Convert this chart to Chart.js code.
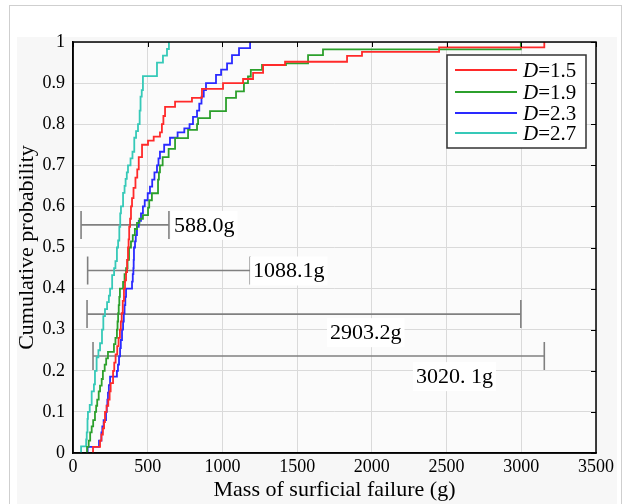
<!DOCTYPE html>
<html>
<head>
<meta charset="utf-8">
<script src="https://cdn.jsdelivr.net/npm/chart.js@4/dist/chart.umd.min.js"></script>
<style>
  html, body { margin: 0; padding: 0; background: #fff; }
  canvas { display: block; }
</style>
</head>
<body>
<canvas id="cdf" width="625" height="504"></canvas>
<script>
// ECDF steps: [mass (g), cumulative probability]
const d15 = [[134,0],[134,0.015],[181,0.03],[190,0.045],[200,0.06],[208,0.075],[214,0.1],[225,0.115],[236,0.13],[245,0.15],
  [252,0.17],[268,0.2],[276,0.22],[285,0.24],[296,0.26],[305,0.28],[314,0.3],[320,0.32],[326,0.34],[333,0.37],
  [341,0.4],[348,0.42],[355,0.44],[362,0.47],[368,0.5],[372,0.52],[376,0.55],[382,0.57],[388,0.6],[395,0.62],
  [405,0.645],[418,0.67],[430,0.69],[440,0.72],[462,0.75],[502,0.76],[540,0.77],[582,0.78],[595,0.8],[605,0.82],[616,0.842],
  [683,0.855],[796,0.864],[863,0.886],[1004,0.9],[1138,0.91],[1205,0.925],[1272,0.944],[1419,0.952],[1834,0.966],[1934,0.976],
  [2450,0.987],[3154,1]];
const d19 = [[94,0],[94,0.015],[105,0.03],[115,0.05],[125,0.065],[135,0.08],[147,0.1],[155,0.115],[162,0.13],[172,0.15],
  [181,0.164],[192,0.18],[200,0.2],[212,0.215],[222,0.23],[234,0.246],[274,0.265],[284,0.28],[294,0.3],[298,0.32],
  [302,0.34],[306,0.36],[310,0.38],[314,0.4],[335,0.416],[345,0.435],[355,0.45],[365,0.47],[375,0.5],[388,0.515],
  [400,0.53],[414,0.545],[428,0.56],[445,0.57],[468,0.579],[502,0.597],[510,0.615],[528,0.632],[569,0.665],[575,0.683],
  [582,0.7],[600,0.72],[640,0.74],[683,0.766],[770,0.786],[830,0.8],[837,0.815],[917,0.832],[1024,0.864],[1091,0.88],
  [1144,0.9],[1171,0.916],[1190,0.932],[1265,0.944],[1425,0.948],[1573,0.968],[1673,0.982],[2997,1]];
const d23 = [[98,0],[98,0.015],[174,0.03],[190,0.05],[196,0.065],[205,0.08],[221,0.1],[226,0.115],[230,0.13],[234,0.147],
  [240,0.165],[248,0.186],[294,0.2],[301,0.215],[308,0.235],[315,0.255],[320,0.275],[328,0.3],[335,0.32],[340,0.34],
  [345,0.36],[350,0.38],[355,0.4],[395,0.417],[400,0.435],[404,0.45],[406,0.47],[408,0.5],[415,0.515],[420,0.53],
  [428,0.55],[440,0.565],[455,0.583],[468,0.6],[480,0.615],[500,0.632],[515,0.648],[530,0.665],[545,0.683],[562,0.7],
  [572,0.717],[582,0.733],[610,0.75],[649,0.767],[700,0.78],[745,0.79],[780,0.8],[803,0.818],[830,0.833],[845,0.85],
  [860,0.867],[875,0.883],[890,0.9],[957,0.92],[991,0.933],[1031,0.948],[1064,0.968],[1111,0.985],[1185,1]];
const d27 = [[54,0],[54,0.016],[88,0.033],[92,0.05],[97,0.083],[100,0.1],[112,0.117],[125,0.15],[140,0.167],[147,0.2],
  [158,0.233],[170,0.25],[181,0.267],[194,0.3],[203,0.333],[214,0.35],[228,0.367],[240,0.383],[248,0.4],[262,0.433],
  [275,0.45],[284,0.467],[294,0.5],[302,0.517],[310,0.55],[316,0.583],[321,0.6],[335,0.633],[345,0.65],[352,0.667],
  [360,0.683],[368,0.7],[385,0.717],[398,0.733],[410,0.767],[422,0.783],[435,0.8],[446,0.833],[452,0.867],[460,0.883],
  [468,0.917],[562,0.95],[602,0.967],[629,0.983],[642,1]];

const seriesNames = ['1.5', '1.9', '2.3', '2.7'];
const seriesColors = ['#ff2a2a', '#2ca02c', '#2a2aff', '#36c9b8'];

// range bars: probability level, min mass, max mass, label and where the label sits
const barLevel = [0.555, 0.444, 0.338, 0.236];
const barMin = [54, 98, 94, 134];
const barMax = [642, 1186, 2997, 3154];
const barText = ['588.0g', '1088.1g', '2903.2g', '3020. 1g'];
const barTextX = [676, 1205, 1720, 2295];
const barTextY = [0.555, 0.444, 0.294, 0.187];

const xTicks = [0, 500, 1000, 1500, 2000, 2500, 3000, 3500];
const yTicks = [0, 0.1, 0.2, 0.3, 0.4, 0.5, 0.6, 0.7, 0.8, 0.9, 1];

const SERIF = "'Liberation Serif', 'Times New Roman', serif";

const lineSets = [d15, d19, d23, d27].map((pts, i) => ({
    label: 'D=' + seriesNames[i],
    data: pts.map(p => ({ x: p[0], y: p[1] })),
    borderColor: seriesColors[i],
    borderWidth: 1.8,
    stepped: true,
    pointRadius: 0,
    fill: false
}));

const barSets = barLevel.map((lv, i) => ({
    label: 'bar' + i,
    data: [{ x: barMin[i], y: lv }, { x: barMax[i], y: lv }],
    borderColor: '#808080',
    borderWidth: 1.6,
    pointStyle: 'line',
    pointRotation: 90,
    pointRadius: 14,
    pointBorderWidth: 1.6,
    pointBorderColor: '#808080',
    fill: false
}));

const backdrop = {
    id: 'backdrop',
    beforeDraw(chart) {
        const { ctx, chartArea: a } = chart;
        ctx.save();
        ctx.fillStyle = '#fff';
        ctx.fillRect(0, 0, chart.width, chart.height);
        ctx.fillStyle = '#f7f7f7';
        ctx.fillRect(17, 37, 600, 467);
        ctx.strokeStyle = '#cfcfcf';
        ctx.lineWidth = 1;
        ctx.strokeRect(9.5, 5.5, 612, 520);
        ctx.fillStyle = '#fbfbfb';
        ctx.fillRect(a.left, a.top, a.right - a.left, a.bottom - a.top);
        ctx.restore();
    }
};

const overlay = {
    id: 'overlay',
    afterDatasetsDraw(chart) {
        const { ctx, chartArea: a, scales: { x, y } } = chart;
        ctx.save();
        // range labels
        ctx.font = '22px ' + SERIF;
        ctx.textBaseline = 'middle';
        ctx.textAlign = 'left';
        barText.forEach((t, i) => {
            const px = x.getPixelForValue(barTextX[i]);
            const py = y.getPixelForValue(barTextY[i]);
            const w = ctx.measureText(t).width;
            ctx.fillStyle = '#fff';
            ctx.fillRect(px - 3, py - 14, w + 6, 29);
            ctx.fillStyle = '#000';
            ctx.fillText(t, px, py + 1);
        });

        // frame with inward ticks on top and right
        ctx.strokeStyle = '#000';
        ctx.lineWidth = 1.5;
        ctx.strokeRect(a.left, a.top, a.right - a.left, a.bottom - a.top);
        ctx.lineWidth = 1;
        ctx.beginPath();
        xTicks.forEach(v => {
            const px = Math.round(x.getPixelForValue(v)) + 0.5;
            ctx.moveTo(px, a.top);
            ctx.lineTo(px, a.top + 5);
        });
        yTicks.forEach(v => {
            const py = Math.round(y.getPixelForValue(v)) + 0.5;
            ctx.moveTo(a.right - 5, py);
            ctx.lineTo(a.right, py);
        });
        ctx.stroke();

        // legend
        const bx = a.right - 149, by = a.top + 13, bw = 139, bh = 93;
        ctx.fillStyle = '#fff';
        ctx.fillRect(bx, by, bw, bh);
        ctx.strokeStyle = '#333';
        ctx.lineWidth = 1.5;
        ctx.strokeRect(bx, by, bw, bh);
        const rows = [15, 37, 58, 78];
        seriesNames.forEach((n, i) => {
            const ry = by + rows[i];
            ctx.strokeStyle = seriesColors[i];
            ctx.lineWidth = 1.8;
            ctx.beginPath();
            ctx.moveTo(bx + 8, ry);
            ctx.lineTo(bx + 70, ry);
            ctx.stroke();
            ctx.fillStyle = '#000';
            ctx.font = 'italic 21px ' + SERIF;
            ctx.fillText('D', bx + 76, ry + 1);
            const dw = ctx.measureText('D').width;
            ctx.font = '21px ' + SERIF;
            ctx.fillText('=' + n, bx + 76 + dw, ry + 1);
        });
        ctx.restore();
    }
};

new Chart(document.getElementById('cdf'), {
    type: 'line',
    data: { datasets: [...lineSets, ...barSets] },
    options: {
        responsive: false,
        animation: false,
        devicePixelRatio: 1,
        layout: { padding: { left: 0, right: 29, top: 42, bottom: 0 } },
        plugins: {
            legend: { display: false },
            tooltip: { enabled: false }
        },
        scales: {
            x: {
                type: 'linear',
                min: 0,
                max: 3500,
                afterBuildTicks: s => { s.ticks = xTicks.map(v => ({ value: v })); },
                afterFit: s => { s.height = 51; },
                ticks: {
                    font: { family: SERIF, size: 18 },
                    color: '#000',
                    padding: 3,
                    maxRotation: 0,
                    callback: v => String(v)
                },
                grid: { color: '#dadada', drawTicks: false },
                border: { color: '#000', width: 1.5 },
                title: {
                    display: true,
                    text: 'Mass of surficial failure (g)',
                    font: { family: SERIF, size: 22 },
                    color: '#000',
                    padding: { top: 0, bottom: 1 }
                }
            },
            y: {
                type: 'linear',
                min: 0,
                max: 1,
                afterBuildTicks: s => { s.ticks = yTicks.map(v => ({ value: v })); },
                afterFit: s => { s.width = 73; },
                ticks: {
                    font: { family: SERIF, size: 18 },
                    color: '#000',
                    padding: 8,
                    callback: v => String(Number(v.toFixed(1)))
                },
                grid: { color: '#dadada', drawTicks: false },
                border: { color: '#000', width: 1.5 },
                title: {
                    display: true,
                    text: 'Cumulative probability',
                    font: { family: SERIF, size: 22 },
                    color: '#000',
                    padding: { top: 14, bottom: 0 }
                }
            }
        }
    },
    plugins: [backdrop, overlay]
});
</script>
</body>
</html>
